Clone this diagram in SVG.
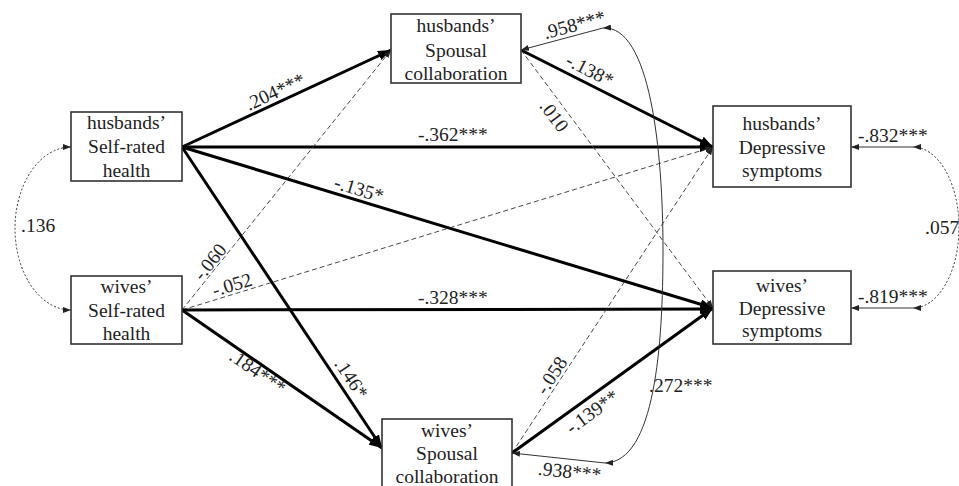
<svg xmlns="http://www.w3.org/2000/svg" width="959" height="486" viewBox="0 0 959 486" font-family="'Liberation Serif', 'Times New Roman', serif" font-size="19.5">
<defs>
<style>
.box{fill:#fff;stroke:#333;stroke-width:1.6}
.t{font-family:'Liberation Serif','Times New Roman',serif;font-size:19.5px;fill:#222}
.nt{text-anchor:middle}
.thick{stroke:#000;stroke-width:3;fill:none;marker-end:url(#ab)}
.dash{stroke:#333;stroke-width:0.9;fill:none;stroke-dasharray:5,3;marker-end:url(#as)}
.thin{stroke:#333;stroke-width:1;fill:none;marker-end:url(#as)}
.dot{stroke:#333;stroke-width:1;fill:none;stroke-dasharray:2,2;marker-start:url(#as2);marker-end:url(#as2)}
.arc{stroke:#333;stroke-width:1;fill:none;marker-start:url(#as2);marker-end:url(#as2)}
</style>
<marker id="ab" markerUnits="userSpaceOnUse" markerWidth="14" markerHeight="10" refX="13" refY="5" orient="auto"><path d="M0,0 L13,5 L0,10 z" fill="#000"/></marker>
<marker id="as" markerUnits="userSpaceOnUse" markerWidth="9" markerHeight="6" refX="8" refY="3" orient="auto"><path d="M0,0 L8,3 L0,6 z" fill="#222"/></marker>
<marker id="as2" markerUnits="userSpaceOnUse" markerWidth="9" markerHeight="6" refX="8" refY="3" orient="auto-start-reverse"><path d="M0,0 L8,3 L0,6 z" fill="#222"/></marker>
</defs>
<rect width="959" height="486" fill="#fff"/>

<g id="connectors">
<line class="thick" x1="182" y1="147" x2="391" y2="50"/>
<line class="thick" x1="182" y1="147" x2="713" y2="147"/>
<line class="thick" x1="182" y1="147" x2="713" y2="308"/>
<line class="thick" x1="182" y1="147" x2="382" y2="448"/>
<line class="dash" x1="182" y1="310" x2="391" y2="50"/>
<line class="dash" x1="182" y1="310" x2="713" y2="147"/>
<line class="thick" x1="182" y1="310" x2="713" y2="309"/>
<line class="thick" x1="182" y1="310" x2="382" y2="448"/>
<line class="thick" x1="521" y1="50" x2="713" y2="147"/>
<line class="dash" x1="521" y1="50" x2="713" y2="308"/>
<line class="dash" x1="512" y1="453" x2="713" y2="147"/>
<line class="thick" x1="512" y1="453" x2="713" y2="308"/>
<line class="thin" x1="603" y1="28" x2="521" y2="50"/>
<line class="thin" x1="605" y1="463" x2="512" y2="453"/>
<line class="thin" x1="913" y1="147" x2="851" y2="147"/>
<line class="thin" x1="913" y1="308" x2="851" y2="308"/>
<path class="dot" d="M71,147 A56,81.5 0 0 0 71,310"/>
<path class="dot" d="M913,147 A46,80.5 0 0 1 913,308"/>
<path class="arc" d="M603,28 C650,25 663,150 663,250 C663,345 655,462 605,463"/>
</g>

<g id="labels" class="t" font-family="'Liberation Serif', 'Times New Roman', serif" fill="#222">
<text x="249" y="111" transform="rotate(-24.9 249 111)">.204***</text>
<text x="418" y="141">-.362***</text>
<text x="333" y="188" transform="rotate(16.8 333 188)">-.135*</text>
<text x="346" y="382" text-anchor="middle" transform="rotate(56.4 346 382)">.146*</text>
<text x="254" y="377" text-anchor="middle" transform="rotate(34.6 254 377)">.184***</text>
<text x="215" y="266" text-anchor="middle" transform="rotate(-51.2 215 266)">-.060</text>
<text x="234" y="291" text-anchor="middle" transform="rotate(-17 234 291)">-.052</text>
<text x="418" y="304">-.328***</text>
<text x="549" y="120" text-anchor="middle" transform="rotate(53.2 549 120)">.010</text>
<text x="587" y="76" text-anchor="middle" transform="rotate(27 587 76)">-.138*</text>
<text x="557" y="379" text-anchor="middle" transform="rotate(-56.6 557 379)">-.058</text>
<text x="596" y="417" text-anchor="middle" transform="rotate(-36 596 417)">-.139**</text>
<text x="576" y="31" text-anchor="middle" transform="rotate(-15 576 31)">.958***</text>
<text x="569" y="478" text-anchor="middle" transform="rotate(6 569 478)">.938***</text>
<text x="649" y="392">.272***</text>
<text x="858" y="142">-.832***</text>
<text x="858" y="303">-.819***</text>
<text x="21" y="232">.136</text>
<text x="925" y="234">.057</text>
</g>

<g id="hSRH" font-family="'Liberation Serif', 'Times New Roman', serif" text-anchor="middle" fill="#222">
<rect class="box" x="71" y="112" width="111" height="69"/>
<text class="t nt" x="126.5" y="129">husbands’</text>
<text class="t nt" x="126.5" y="153">Self-rated</text>
<text class="t nt" x="126.5" y="177">health</text>
</g>
<g id="wSRH" font-family="'Liberation Serif', 'Times New Roman', serif" text-anchor="middle" fill="#222">
<rect class="box" x="71" y="276" width="111" height="68"/>
<text class="t nt" x="126.5" y="293">wives’</text>
<text class="t nt" x="126.5" y="317">Self-rated</text>
<text class="t nt" x="126.5" y="340">health</text>
</g>
<g id="hSC" font-family="'Liberation Serif', 'Times New Roman', serif" text-anchor="middle" fill="#222">
<rect class="box" x="391" y="14" width="130" height="69"/>
<text class="t nt" x="456" y="32">husbands’</text>
<text class="t nt" x="456" y="57">Spousal</text>
<text class="t nt" x="456" y="80">collaboration</text>
</g>
<g id="wSC" font-family="'Liberation Serif', 'Times New Roman', serif" text-anchor="middle" fill="#222">
<rect class="box" x="382" y="419" width="130" height="72"/>
<text class="t nt" x="447" y="437">wives’</text>
<text class="t nt" x="447" y="460">Spousal</text>
<text class="t nt" x="447" y="483">collaboration</text>
</g>
<g id="hDS" font-family="'Liberation Serif', 'Times New Roman', serif" text-anchor="middle" fill="#222">
<rect class="box" x="713" y="106" width="138" height="81"/>
<text class="t nt" x="782" y="130">husbands’</text>
<text class="t nt" x="782" y="154">Depressive</text>
<text class="t nt" x="782" y="177">symptoms</text>
</g>
<g id="wDS" font-family="'Liberation Serif', 'Times New Roman', serif" text-anchor="middle" fill="#222">
<rect class="box" x="713" y="271" width="138" height="73"/>
<text class="t nt" x="782" y="292">wives’</text>
<text class="t nt" x="782" y="315">Depressive</text>
<text class="t nt" x="782" y="337">symptoms</text>
</g>
</svg>
